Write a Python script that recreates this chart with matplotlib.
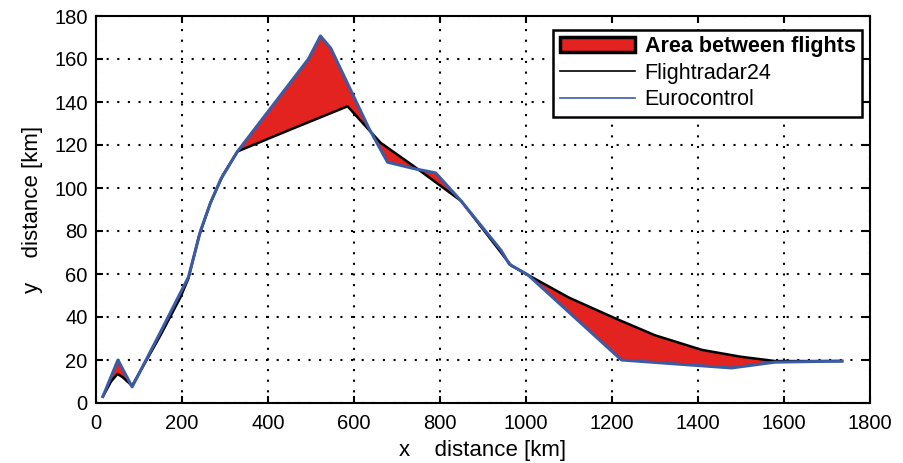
import numpy as np
import matplotlib
matplotlib.use("Agg")
import matplotlib.pyplot as plt
from matplotlib.patches import Patch
from matplotlib.lines import Line2D

plt.rcParams['font.family'] = ['Liberation Sans', 'DejaVu Sans']

# Flightradar24 track (x km, y km)
fr_x = [16, 35, 50, 62, 84, 150, 196, 215, 240, 266, 295, 329, 450, 585, 662, 740, 849, 965, 1005, 1100, 1206, 1300, 1409, 1500, 1580, 1735]
fr_y = [3, 10, 13.5, 12, 8, 31.5, 49, 58, 78, 93, 106, 117, 127, 138, 121, 110, 94, 64, 59.5, 49, 39.5, 31.5, 24.7, 21.5, 19.5, 19.5]

# Eurocontrol track
ec_x = [16, 51, 84, 150, 215, 243, 266, 290, 329, 494, 522, 546, 634, 678, 740, 790, 849, 942, 961, 1005, 1222, 1478, 1579, 1735]
ec_y = [3, 20, 7.5, 33, 58.6, 80, 93, 104, 117, 160, 170.7, 165, 128, 112, 109, 107, 94, 71, 64.6, 59.5, 20, 16.3, 19, 19.5]

x_ticks = [0, 200, 400, 600, 800, 1000, 1200, 1400, 1600, 1800]
y_ticks = [0, 20, 40, 60, 80, 100, 120, 140, 160, 180]

fig = plt.figure(figsize=(9.04, 4.63), dpi=100)
ax = fig.add_axes([96 / 904, 60 / 463, 774 / 904, 387 / 463])

xs = np.union1d(fr_x, ec_x)
y_fr = np.interp(xs, fr_x, fr_y)
y_ec = np.interp(xs, ec_x, ec_y)
ax.fill_between(xs, y_fr, y_ec, color='#e3231f', linewidth=0, interpolate=True, zorder=2)

ax.plot(fr_x, fr_y, color='black', lw=1.8, zorder=3)
ax.plot(ec_x, ec_y, color='#3b5ba5', lw=2.2, zorder=4)

ax.set_xlim(0, 1800)
ax.set_ylim(0, 180)
ax.set_xticks(x_ticks)
ax.set_yticks(y_ticks)
ax.tick_params(direction='in', top=True, right=True, length=5, width=1.5, labelsize=14.5, pad=6)
ax.tick_params(axis='x', pad=8)
ax.grid(True, linestyle=(0, (1, 4.1)), color='black', linewidth=1.5)
for s in ax.spines.values():
    s.set_linewidth(1.5)

ax.set_xlabel('x    distance [km]', fontsize=16, labelpad=5)
ax.set_ylabel('y    distance [km]', fontsize=16, labelpad=8)

handles = [Patch(facecolor='#e3231f', edgecolor='black', linewidth=2.5),
           Line2D([], [], color='black', lw=1.2),
           Line2D([], [], color='#3b5ba5', lw=1.2)]
labels = ['Area between flights', 'Flightradar24', 'Eurocontrol']
leg = ax.legend(handles, labels, loc='upper right', bbox_to_anchor=(766 / 774, 373 / 387),
                fontsize=15.5, handlelength=3.5, handletextpad=0.45, borderpad=0.3,
                labelspacing=0.25, fancybox=False, framealpha=1, edgecolor='black',
                borderaxespad=0)
leg.get_frame().set_linewidth(1.8)
leg.get_texts()[0].set_fontweight('bold')

fig.savefig('out.png', dpi=100)
